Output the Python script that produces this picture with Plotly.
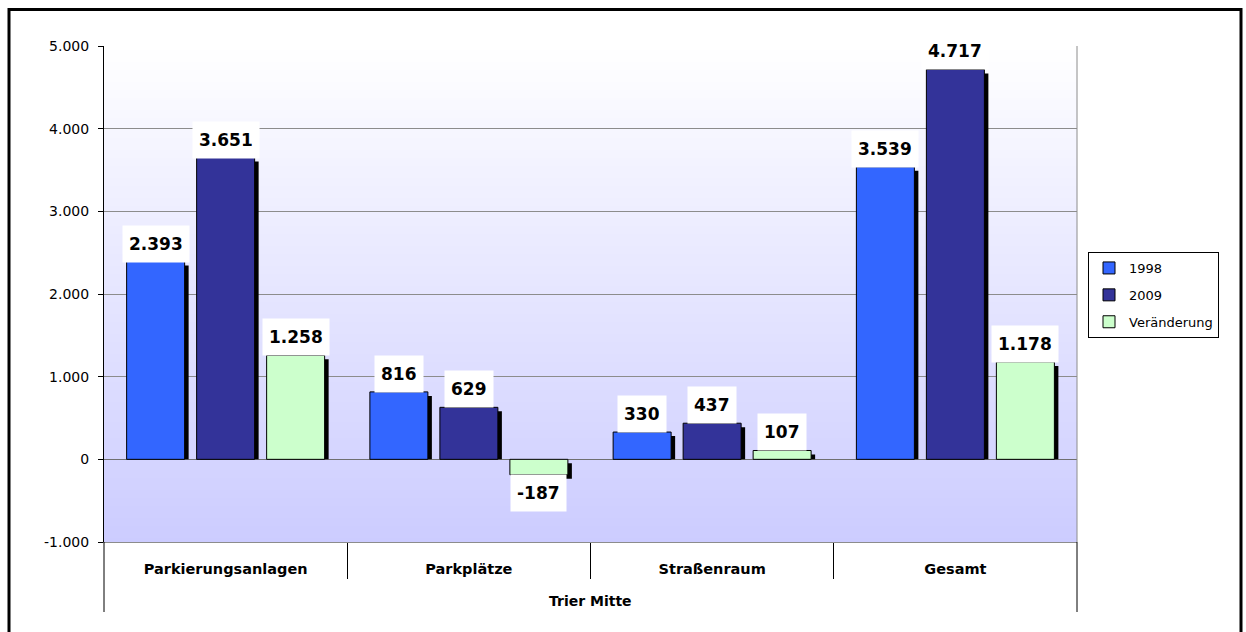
import plotly.graph_objects as go

# Parking supply, Trier Mitte
categories = ["Parkierungsanlagen", "Parkplätze", "Straßenraum", "Gesamt"]
group_label = "Trier Mitte"
series_names = ["1998", "2009", "Veränderung"]
values_1998 = [2393, 816, 330, 3539]
values_2009 = [3651, 629, 437, 4717]
values_change = [1258, -187, 107, 1178]
y_ticks = [-1000, 0, 1000, 2000, 3000, 4000, 5000]

series_values = [values_1998, values_2009, values_change]
series_colors = ["#3366FF", "#333399", "#CCFFCC"]


def de_num(v):
    return f"{v:,}".replace(",", ".")


W, H = 1246, 632
ML, MR, MT, MB = 104, 169, 46, 90
plot_w = W - ML - MR
plot_h = H - MT - MB
y_min, y_max = y_ticks[0], y_ticks[-1]

# bar geometry in category units
slot = 70 / (plot_w / len(categories))
bar_w = 58 / (plot_w / len(categories))
shadow_dx = 4 / (plot_w / len(categories))
shadow_dy = 4 * (y_max - y_min) / plot_h

xs = list(range(len(categories)))

fig = go.Figure()

# drop shadows first, then the bars on top
for i, (name, vals, col) in enumerate(zip(series_names, series_values, series_colors)):
    off = (i - 1) * slot - bar_w / 2
    fig.add_trace(go.Bar(
        x=xs, y=[v if v < 0 else v - shadow_dy for v in vals],
        base=[-shadow_dy if v < 0 else 0 for v in vals],
        offset=off + shadow_dx, width=bar_w,
        marker=dict(color="black", line=dict(width=0)),
        showlegend=False, hoverinfo="skip",
    ))

for i, (name, vals, col) in enumerate(zip(series_names, series_values, series_colors)):
    off = (i - 1) * slot - bar_w / 2
    fig.add_trace(go.Bar(
        x=xs, y=vals, offset=off, width=bar_w, name=name,
        marker=dict(color=col, line=dict(color="black", width=1)),
        legendgroup=name,
    ))

annotations = []
for i, vals in enumerate(series_values):
    for c, v in zip(xs, vals):
        annotations.append(dict(
            x=c + (i - 1) * slot, y=v, xref="x", yref="y",
            text=de_num(v), showarrow=False,
            yanchor="middle", yshift=18 if v >= 0 else -18,
            font=dict(family="DejaVu Sans", size=17, color="black", weight="bold"),
            bgcolor="white", borderpad=6, height=24,
        ))

annotations.append(dict(
    x=0.5, y=-59 / plot_h, xref="paper", yref="paper",
    text=group_label, showarrow=False, yanchor="middle",
    font=dict(family="DejaVu Sans", size=14, color="black", weight="bold"),
))

shapes = []
# vertical gradient behind the plot area, one strip per 4 px
n_strips = plot_h // 4
c0 = (0xCC, 0xCC, 0xFF)
c1 = (0xFF, 0xFF, 0xFF)
for k in range(n_strips):
    t = (k + 0.5) / n_strips
    col = "rgb({},{},{})".format(*[round(a + (b - a) * t) for a, b in zip(c0, c1)])
    shapes.append(dict(
        type="rect", xref="x domain", yref="y domain", layer="below",
        x0=0, x1=1,
        y0=k / n_strips,
        y1=(k + 1) / n_strips + (0.5 / plot_h if k < n_strips - 1 else 0),
        fillcolor=col, line=dict(width=0),
    ))
# right edge of the plot area
shapes.append(dict(type="line", xref="x domain", yref="y domain", x0=1, x1=1, y0=0, y1=1,
                   line=dict(color="#8c8c8c", width=1)))
# outer ends of the category axis
for xd in (0, 1):
    shapes.append(dict(type="line", xref="x domain", yref="paper", x0=xd, x1=xd,
                       y0=0, y1=-70 / plot_h, line=dict(color="black", width=1)))
# chart frame
shapes.append(dict(type="rect", xref="paper", yref="paper",
                   x0=(9 - ML) / plot_w, x1=(W - 5 - ML) / plot_w,
                   y0=-(MB + 30) / plot_h, y1=(plot_h + MT - 9.5) / plot_h,
                   line=dict(color="black", width=3)))

fig.update_layout(
    width=W, height=H,
    margin=dict(l=ML, r=MR, t=MT, b=MB, pad=0),
    paper_bgcolor="white", plot_bgcolor="white",
    barmode="overlay",
    font=dict(family="DejaVu Sans", color="black"),
    xaxis=dict(
        range=[-0.5, len(categories) - 0.5],
        tickmode="array", tickvals=xs, ticktext=categories,
        ticks="", showgrid=False, zeroline=False,
        tickfont=dict(size=14.5, weight="bold"),
        ticklabelstandoff=14,
        showline=True, linecolor="#8c8c8c", linewidth=1,
        minor=dict(tickmode="array",
                   tickvals=[c + 0.5 for c in xs[:-1]],
                   ticks="outside", ticklen=36, tickcolor="black", tickwidth=1,
                   showgrid=False),
    ),
    yaxis=dict(
        range=[y_min, y_max],
        tickmode="array", tickvals=y_ticks, ticktext=[de_num(v) for v in y_ticks],
        ticks="outside", ticklen=5, tickcolor="black",
        tickfont=dict(size=14),
        ticklabelstandoff=6,
        showline=True, linecolor="black", linewidth=1,
        showgrid=True, gridcolor="#8c8c8c", gridwidth=1,
        zeroline=True, zerolinecolor="#707070", zerolinewidth=1,
    ),
    legend=dict(
        x=(1088 - ML) / plot_w, y=(plot_h + MT - 252) / plot_h,
        xanchor="left", yanchor="top",
        bordercolor="black", borderwidth=1, bgcolor="white",
        font=dict(size=13),
        traceorder="grouped", tracegroupgap=7,
        itemwidth=30,
    ),
    annotations=annotations,
    shapes=shapes,
)

fig.write_html("out.html")
